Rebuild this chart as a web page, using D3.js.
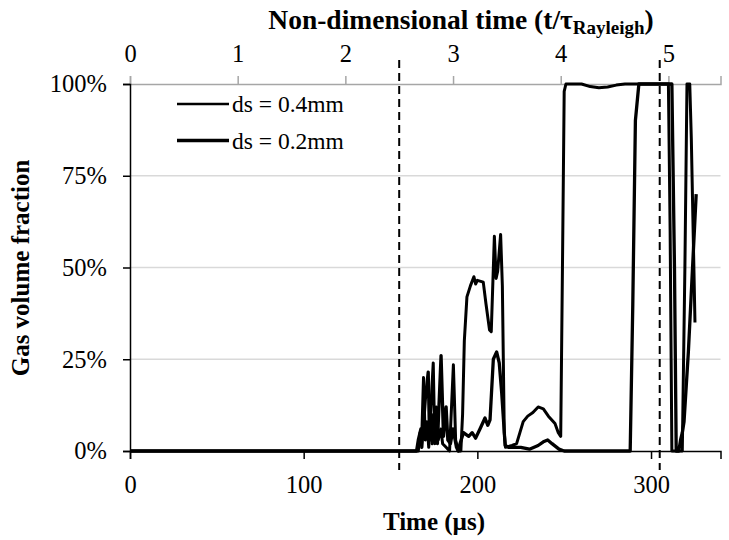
<!DOCTYPE html>
<html>
<head>
<meta charset="utf-8">
<script src="https://cdn.jsdelivr.net/npm/d3@7"></script>
<style>
  body { margin: 0; background: #fff; }
  svg, svg text { font-family: "Liberation Serif", "Times New Roman", Times, "DejaVu Serif", "Noto Serif", serif; }
</style>
</head>
<body>
<div id="vis"></div>
<script>
// time in microseconds, gas volume fraction in %
let ds04 = [
  [0,0],[166,0],[167,5],[168,4],[169,20],[170,3],[171,8],[172,1],[174.6,24],[175.5,2],[176.5,12],
  [177.5,3],[179,6],[180,2],[182,1],[184,0],[186.2,23.5],[187.5,3],[189,0],[190.5,0],[191.5,10],
  [192.5,30],[194,42],[196,45],[198,47.5],[199,45.5],[200,46.5],[203.4,46],[205,40],[207,33],
  [208,32.5],[209.8,58.5],[210.8,47],[211.7,49],[213.4,59],[214.4,45],[215.5,5],[216.2,1],[220,1.5],
  [222.6,2],[224.5,5],[226.4,8],[229,9.5],[232,10.5],[235,12],[238,11.5],[240.9,9.5],[244.7,7.5],
  [246.6,5],[248,4],[249,50],[250,98],[251,100],[260,100],[265,99.3],[270,99],[275,99.2],[280,99.7],
  [285,100],[310,100],[311,60],[312,0],[318,0],[319.5,50],[320.7,100],[322.3,100],[323.2,85],[325.3,35]
];
let ds02 = [
  [0,0],[165,0],[166,3],[167.5,6],[168,1],[170,14],[171.7,21.5],[172.5,3],[173.5,10],[174,2],[176,6],
  [177,2],[179.1,26],[180.5,4],[182,12],[183,3],[184.5,2],[186,6],[188,1],[189,0],[190,2],[192,5],
  [195,4],[197,5],[199,3.5],[201.5,6],[204.4,9],[206,7],[207.3,8.5],[209.2,25],[211.1,27],[212.6,24],
  [214,16],[216,1.5],[218,1],[225,1],[230,0.5],[235,1.5],[238,2.5],[240.5,3],[243,2],[247,0.5],
  [250,0],[288,0],[289.5,40],[291,90],[293,100],[312,100],[313.5,50],[314.5,0],[316,0],[317,3],
  [318,5],[319,8],[321.5,27],[326,70]
];
let seriesNames = ['ds = 0.4mm', 'ds = 0.2mm'];
let xTicks = [0, 100, 200, 300];
let topTicks = [0, 1, 2, 3, 4, 5];
let yTicks = [0, 25, 50, 75, 100];
let markerTimes = [155, 305];   // dashed vertical lines (µs)
let tauRayleigh = 62;           // µs, for the top axis

let W = 729, H = 540;
let margin = { top: 84, left: 130, right: 8.5, bottom: 89 };
let serif = '"Liberation Serif", "Times New Roman", Times, "DejaVu Serif", "Noto Serif", serif';

let svg = d3.select('#vis')
  .append('svg')
  .attr('width', W)
  .attr('height', H)
  .attr('font-family', serif);

let x = d3.scaleLinear().domain([0, 340]).range([margin.left, W - margin.right]);
let xTop = d3.scaleLinear().domain([0, 340 / tauRayleigh]).range([margin.left, W - margin.right]);
let y = d3.scaleLinear().domain([0, 100]).range([H - margin.bottom, margin.top]);

// gridlines
svg.append('g')
  .selectAll('line')
  .data(yTicks.filter(d => d > 0 && d < 100))
  .enter().append('line')
  .attr('x1', x.range()[0]).attr('x2', x.range()[1])
  .attr('y1', d => y(d)).attr('y2', d => y(d))
  .attr('stroke', '#d9d9d9')
  .attr('stroke-width', 1.5);

// top axis (non-dimensional time)
let gTop = svg.append('g')
  .attr('transform', 'translate(0,' + y(100) + ')')
  .call(d3.axisTop(xTop).tickValues(topTicks).tickSize(8).tickPadding(14).tickFormat(d3.format('d')));
gTop.select('.domain').attr('stroke', '#a6a6a6').attr('stroke-width', 1.5);
gTop.selectAll('.tick line').attr('stroke', '#a6a6a6').attr('stroke-width', 1.5);

// bottom axis
let gBot = svg.append('g')
  .attr('transform', 'translate(0,' + y(0) + ')')
  .call(d3.axisBottom(x).tickValues(xTicks).tickSize(8).tickPadding(17).tickFormat(d3.format('d')));
gBot.select('.domain').attr('stroke', '#000').attr('stroke-width', 1.5);
gBot.selectAll('.tick line').attr('stroke', '#000').attr('stroke-width', 1.5);

// left axis
let gLeft = svg.append('g')
  .attr('transform', 'translate(' + x(0) + ',0)')
  .call(d3.axisLeft(y).tickValues(yTicks).tickSize(7).tickPadding(16).tickFormat(d => d + '%'));
gLeft.select('.domain').attr('stroke', '#000').attr('stroke-width', 1.5);
gLeft.selectAll('.tick line').attr('stroke', '#000').attr('stroke-width', 1.5);

[gTop, gBot, gLeft].forEach(g => g.attr('font-family', serif).attr('font-size', 24.5));
svg.selectAll('.tick text')
  .attr('font-family', serif)
  .attr('fill', '#000');

// dashed markers
svg.append('g')
  .selectAll('line')
  .data(markerTimes)
  .enter().append('line')
  .attr('x1', d => x(d)).attr('x2', d => x(d))
  .attr('y1', 60).attr('y2', 470)
  .attr('stroke', '#000')
  .attr('stroke-width', 2)
  .attr('stroke-dasharray', '8,5');

// data lines
let line = d3.line()
  .x(d => x(d[0]))
  .y(d => y(d[1]));

let widths = [3, 3.3];
[ds04, ds02].forEach(function(s, i) {
  svg.append('path')
    .datum(s)
    .attr('fill', 'none')
    .attr('stroke', '#000')
    .attr('stroke-width', widths[i])
    .attr('stroke-linejoin', 'round')
    .attr('d', line);
});

// legend
let legend = svg.append('g');
seriesNames.forEach(function(name, i) {
  let ly = 104 + i * 36.5;
  legend.append('line')
    .attr('x1', 177).attr('x2', 229)
    .attr('y1', ly).attr('y2', ly)
    .attr('stroke', '#000')
    .attr('stroke-width', i === 0 ? 2.4 : 3.3);
  legend.append('text')
    .attr('x', 232).attr('y', ly)
    .attr('dy', '0.35em')
    .attr('font-family', serif)
    .attr('font-size', 23.5)
    .text(name);
});

// axis titles
let topTitle = svg.append('text')
  .attr('x', 461).attr('y', 29)
  .attr('text-anchor', 'middle')
  .attr('font-family', serif)
  .attr('font-size', 27.5)
  .attr('font-weight', 'bold');
topTitle.append('tspan').text('Non-dimensional time (t/τ');
topTitle.append('tspan').attr('font-size', 19).attr('dy', 5).text('Rayleigh');
topTitle.append('tspan').attr('dy', -5).text(')');

svg.append('text')
  .attr('x', 434).attr('y', 530)
  .attr('text-anchor', 'middle')
  .attr('font-family', serif)
  .attr('font-size', 25)
  .attr('font-weight', 'bold')
  .text('Time (µs)');

svg.append('text')
  .attr('transform', 'translate(29,268) rotate(-90)')
  .attr('text-anchor', 'middle')
  .attr('font-family', serif)
  .attr('font-size', 25)
  .attr('font-weight', 'bold')
  .text('Gas volume fraction');
</script>
</body>
</html>
